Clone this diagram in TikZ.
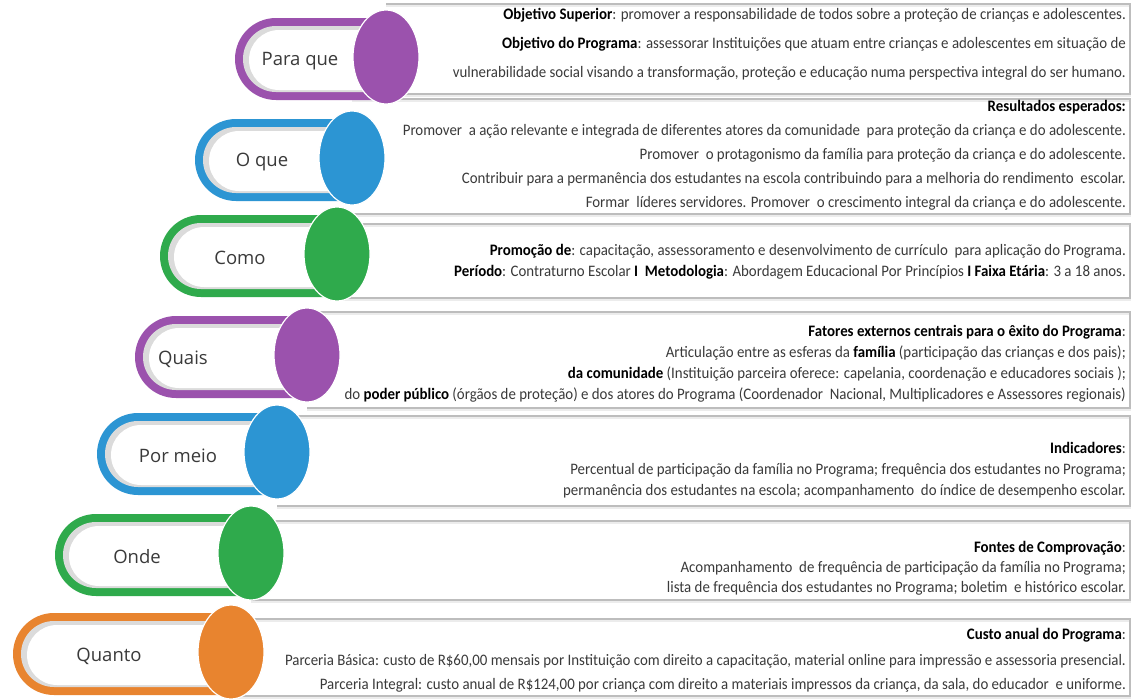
\documentclass[tikz,border=0pt]{standalone}
\usepackage{fontspec}
\setmainfont{Carlito}[FakeStretch=0.93]
\newfontfamily\labfont{Open Sans}
\usetikzlibrary{shapes.geometric}
\definecolor{cpur}{HTML}{9B52AD}
\definecolor{cblu}{HTML}{2C95D3}
\definecolor{cgrn}{HTML}{2FAA4C}
\definecolor{corg}{HTML}{E8842F}
\definecolor{txt}{HTML}{3A3A3A}
\definecolor{panelc}{HTML}{BDBDBD}
\newcommand\bt[1]{\textbf{\color{black}#1}}
\begin{document}
\begin{tikzpicture}[x=1pt,y=-1pt,
  panelbox/.style={draw=panelc, line width=2.2},
  panelshadow/.style={draw=gray!15, line width=2.2},
  oval/.style={ellipse, draw=white, line width=1.2, minimum width=66, minimum height=94, inner sep=0pt},
  lab/.style={font=\labfont\fontsize{18.5}{20}\selectfont, text=txt, inner sep=0pt},
  ln/.style={anchor=base east, font=\fontsize{16}{18}\selectfont, text=txt, inner sep=0pt}]
\fill[white] (0,0) rectangle (1133,699);
\useasboundingbox (0,0) rectangle (1133,699);
% panels (open on the left, hidden behind the ovals)
\foreach \cx/\tp/\bt in {386/4/94, 352/99/214, 337/224/298, 307/312/408, 277/416/506, 251/521/600, 231/619/696}{
  \draw[panelshadow] (\cx,\tp+2) -- (1130,\tp+2) -- (1130,\bt+2) -- (\cx,\bt+2);
  \draw[panelbox] (\cx,\tp) -- (1130,\tp) -- (1130,\bt) -- (\cx,\bt);
}
% pills and ovals
\foreach \i/\cx/\cy/\pl/\lx/\col/\lab in {1/386/57/235/300/cpur/Para que, 2/352/158/195/262/cblu/O que, 3/337/254/160/240/cgrn/Como, 4/307/355/135/183/cpur/Quais, 5/277/452/97/178/cblu/Por meio, 6/251/553/55/137/cgrn/Onde, 7/231/652/13/109/corg/Quanto}{
  \fill[\col] (\cx,\cy-39) -- (\pl+41,\cy-39) arc[start angle=270,end angle=90,radius=41] -- (\cx,\cy+43) -- cycle;
  \fill[gray!28] (\cx,\cy-31) -- (\pl+41,\cy-31) arc[start angle=270,end angle=90,radius=33] -- (\cx,\cy+35) -- cycle;
  \fill[white] (\cx,\cy-27) -- (\pl+44,\cy-27) arc[start angle=270,end angle=90,radius=30] -- (\cx,\cy+33) -- cycle;
  \node[oval, fill=\col] (e\i) at (\cx,\cy) {};
  \node[lab] (l\i) at (\lx,\cy+4) {\lab};
}
% texts
\node[ln] (t11) at (1126,19) {\bt{Objetivo Superior}: promover a responsabilidade de todos sobre a proteção de crianças e adolescentes.};
\node[ln] (t12) at (1126,48) {\bt{Objetivo do Programa}: assessorar Instituições que atuam entre crianças e adolescentes em situação de};
\node[ln] (t13) at (1126,77) {vulnerabilidade social visando a transformação, proteção e educação numa perspectiva integral do ser humano.};
\node[ln] (t21) at (1126,111) {\bt{Resultados esperados:}};
\node[ln] (t22) at (1126,135) {Promover \ a ação relevante e integrada de diferentes atores da comunidade \ para proteção da criança e do adolescente.};
\node[ln] (t23) at (1126,159) {Promover \ o protagonismo da família para proteção da criança e do adolescente.};
\node[ln] (t24) at (1126,183) {Contribuir para a permanência dos estudantes na escola contribuindo para a melhoria do rendimento \ escolar.};
\node[ln] (t25) at (1126,207) {Formar \ líderes servidores. Promover \ o crescimento integral da criança e do adolescente.};
\node[ln] (t31) at (1126,255) {\bt{Promoção de}: capacitação, assessoramento e desenvolvimento de currículo \ para aplicação do Programa.};
\node[ln] (t32) at (1126,276) {\bt{Período}: Contraturno Escolar \bt{I} \ \bt{Metodologia}: Abordagem Educacional Por Princípios \bt{I Faixa Etária}: 3 a 18 anos.};
\node[ln] (t41) at (1126,336) {\bt{Fatores externos centrais para o êxito do Programa}:};
\node[ln] (t42) at (1126,357) {Articulação entre as esferas da \bt{família} (participação das crianças e dos pais);};
\node[ln] (t43) at (1126,378) {\bt{da comunidade} (Instituição parceira oferece: capelania, coordenação e educadores sociais );};
\node[ln] (t44) at (1126,399) {do \bt{poder público} (órgãos de proteção) e dos atores do Programa (Coordenador \ Nacional, Multiplicadores e Assessores regionais)};
\node[ln] (t51) at (1126,453) {\bt{Indicadores}:};
\node[ln] (t52) at (1126,474) {Percentual de participação da família no Programa; frequência dos estudantes no Programa;};
\node[ln] (t53) at (1126,495) {permanência dos estudantes na escola; acompanhamento \ do índice de desempenho escolar.};
\node[ln] (t61) at (1126,552) {\bt{Fontes de Comprovação}:};
\node[ln] (t62) at (1126,572) {Acompanhamento \ de frequência de participação da família no Programa;};
\node[ln] (t63) at (1126,592) {lista de frequência dos estudantes no Programa; boletim \ e histórico escolar.};
\node[ln] (t71) at (1126,639) {\bt{Custo anual do Programa}:};
\node[ln] (t72) at (1126,665) {Parceria Básica: custo de R\$60,00 mensais por Instituição com direito a capacitação, material online para impressão e assessoria presencial.};
\node[ln] (t73) at (1126,689) {Parceria Integral: custo anual de R\$124,00 por criança com direito a materiais impressos da criança, da sala, do educador \ e uniforme.};
\end{tikzpicture}
\end{document}
